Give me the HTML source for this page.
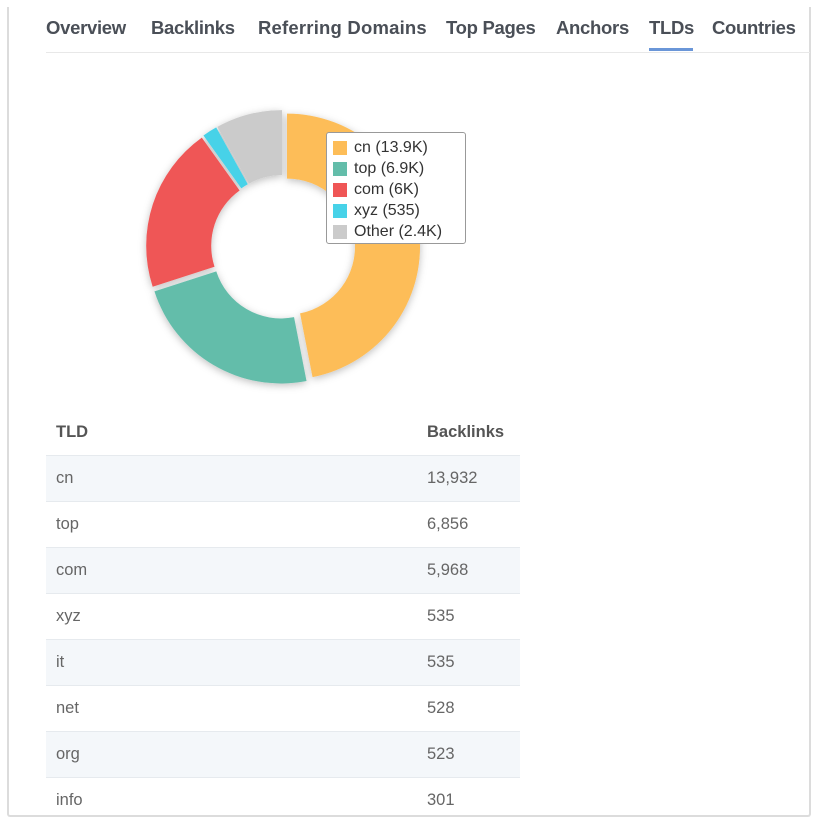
<!DOCTYPE html>
<html><head><meta charset="utf-8"><style>
body{margin:0;width:818px;height:826px;background:#fff;font-family:"Liberation Sans",sans-serif;position:relative;overflow:hidden}
.frame{position:absolute;left:7px;top:7px;width:800px;height:808px;border:2px solid #dcdcdc;border-top:none;border-radius:0 0 3px 3px}
.tabs{position:absolute;left:46px;top:16px;height:36px;width:764px;border-bottom:1px solid #e8e8e8}
.tab{position:absolute;top:1px;font-size:18.5px;color:#4a4f57;font-weight:bold;letter-spacing:-0.3px;white-space:nowrap}
.ul{position:absolute;left:649px;top:48px;width:44px;height:3px;background:#6a96d8}
table{position:absolute;left:46px;top:410px;width:474px;border-collapse:collapse;font-size:16.5px;color:#666;table-layout:fixed}
td,th{height:45px;padding:0 0 0 10px;text-align:left;border-bottom:1px solid #e6eaee;white-space:nowrap}
tr:last-child td{border-bottom:none}
th{color:#555;font-weight:bold;height:45px}
tr.a td{background:#f4f7fa}
</style></head><body>
<div class="frame"></div>
<div class="tabs">
<span class="tab" style="left:0">Overview</span>
<span class="tab" style="left:105px">Backlinks</span>
<span class="tab" style="left:212px;letter-spacing:0.2px">Referring Domains</span>
<span class="tab" style="left:400px">Top Pages</span>
<span class="tab" style="left:510px">Anchors</span>
<span class="tab" style="left:603px">TLDs</span>
<span class="tab" style="left:666px">Countries</span>
</div>
<div class="ul"></div>
<svg id="d" width="818" height="400" style="position:absolute;left:0;top:0">
<defs><filter id="sh" x="-20%" y="-20%" width="140%" height="140%"><feDropShadow dx="0" dy="2" stdDeviation="4" flood-color="#000" flood-opacity="0.25"/></filter></defs>
<g id="g" filter="url(#sh)"></g></svg>
<div style="position:absolute;left:326px;top:132px;width:138px;height:106px;padding-top:4px;border:1px solid #999;border-radius:3px;background:#fff;font-size:16px;color:#333">
<div style="height:21px;line-height:21px;padding-left:27px;position:relative"><span style="position:absolute;left:6px;top:4px;width:14px;height:14px;background:#fdbd58"></span>cn (13.9K)</div>
<div style="height:21px;line-height:21px;padding-left:27px;position:relative"><span style="position:absolute;left:6px;top:4px;width:14px;height:14px;background:#63bdaa"></span>top (6.9K)</div>
<div style="height:21px;line-height:21px;padding-left:27px;position:relative"><span style="position:absolute;left:6px;top:4px;width:14px;height:14px;background:#ef5656"></span>com (6K)</div>
<div style="height:21px;line-height:21px;padding-left:27px;position:relative"><span style="position:absolute;left:6px;top:4px;width:14px;height:14px;background:#47d2e8"></span>xyz (535)</div>
<div style="height:21px;line-height:21px;padding-left:27px;position:relative"><span style="position:absolute;left:6px;top:4px;width:14px;height:14px;background:#cbcbcb"></span>Other (2.4K)</div>
</div>
<table>
<colgroup><col style="width:371px"><col style="width:103px"></colgroup>
<tr><th>TLD</th><th>Backlinks</th></tr>
<tr class="a"><td>cn</td><td>13,932</td></tr>
<tr><td>top</td><td>6,856</td></tr>
<tr class="a"><td>com</td><td>5,968</td></tr>
<tr><td>xyz</td><td>535</td></tr>
<tr class="a"><td>it</td><td>535</td></tr>
<tr><td>net</td><td>528</td></tr>
<tr class="a"><td>org</td><td>523</td></tr>
<tr><td>info</td><td>301</td></tr>
</table>
<script>
var v=[13932,6856,5968,535,2400],c=["#fdbd58","#63bdaa","#ef5656","#47d2e8","#cbcbcb"];
var t=v.reduce(function(a,b){return a+b},0),cx=283,cy=247,R=133,r=68,a=-Math.PI/2,s="";
for(var i=0;i<v.length;i++){var b=a+v[i]/t*2*Math.PI,m=(a+b)/2,ox=4*Math.cos(m),oy=4*Math.sin(m),x=cx+ox,y=cy+oy,l=(b-a)>Math.PI?1:0;
function p(rr,an){return (x+rr*Math.cos(an)).toFixed(2)+","+(y+rr*Math.sin(an)).toFixed(2)}
s+='<path fill="'+c[i]+'" d="M'+p(R,a)+' A'+R+','+R+' 0 '+l+' 1 '+p(R,b)+' L'+p(r,b)+' A'+r+','+r+' 0 '+l+' 0 '+p(r,a)+' Z"/>';a=b;}
document.getElementById("g").innerHTML=s;
</script>
</body></html>
